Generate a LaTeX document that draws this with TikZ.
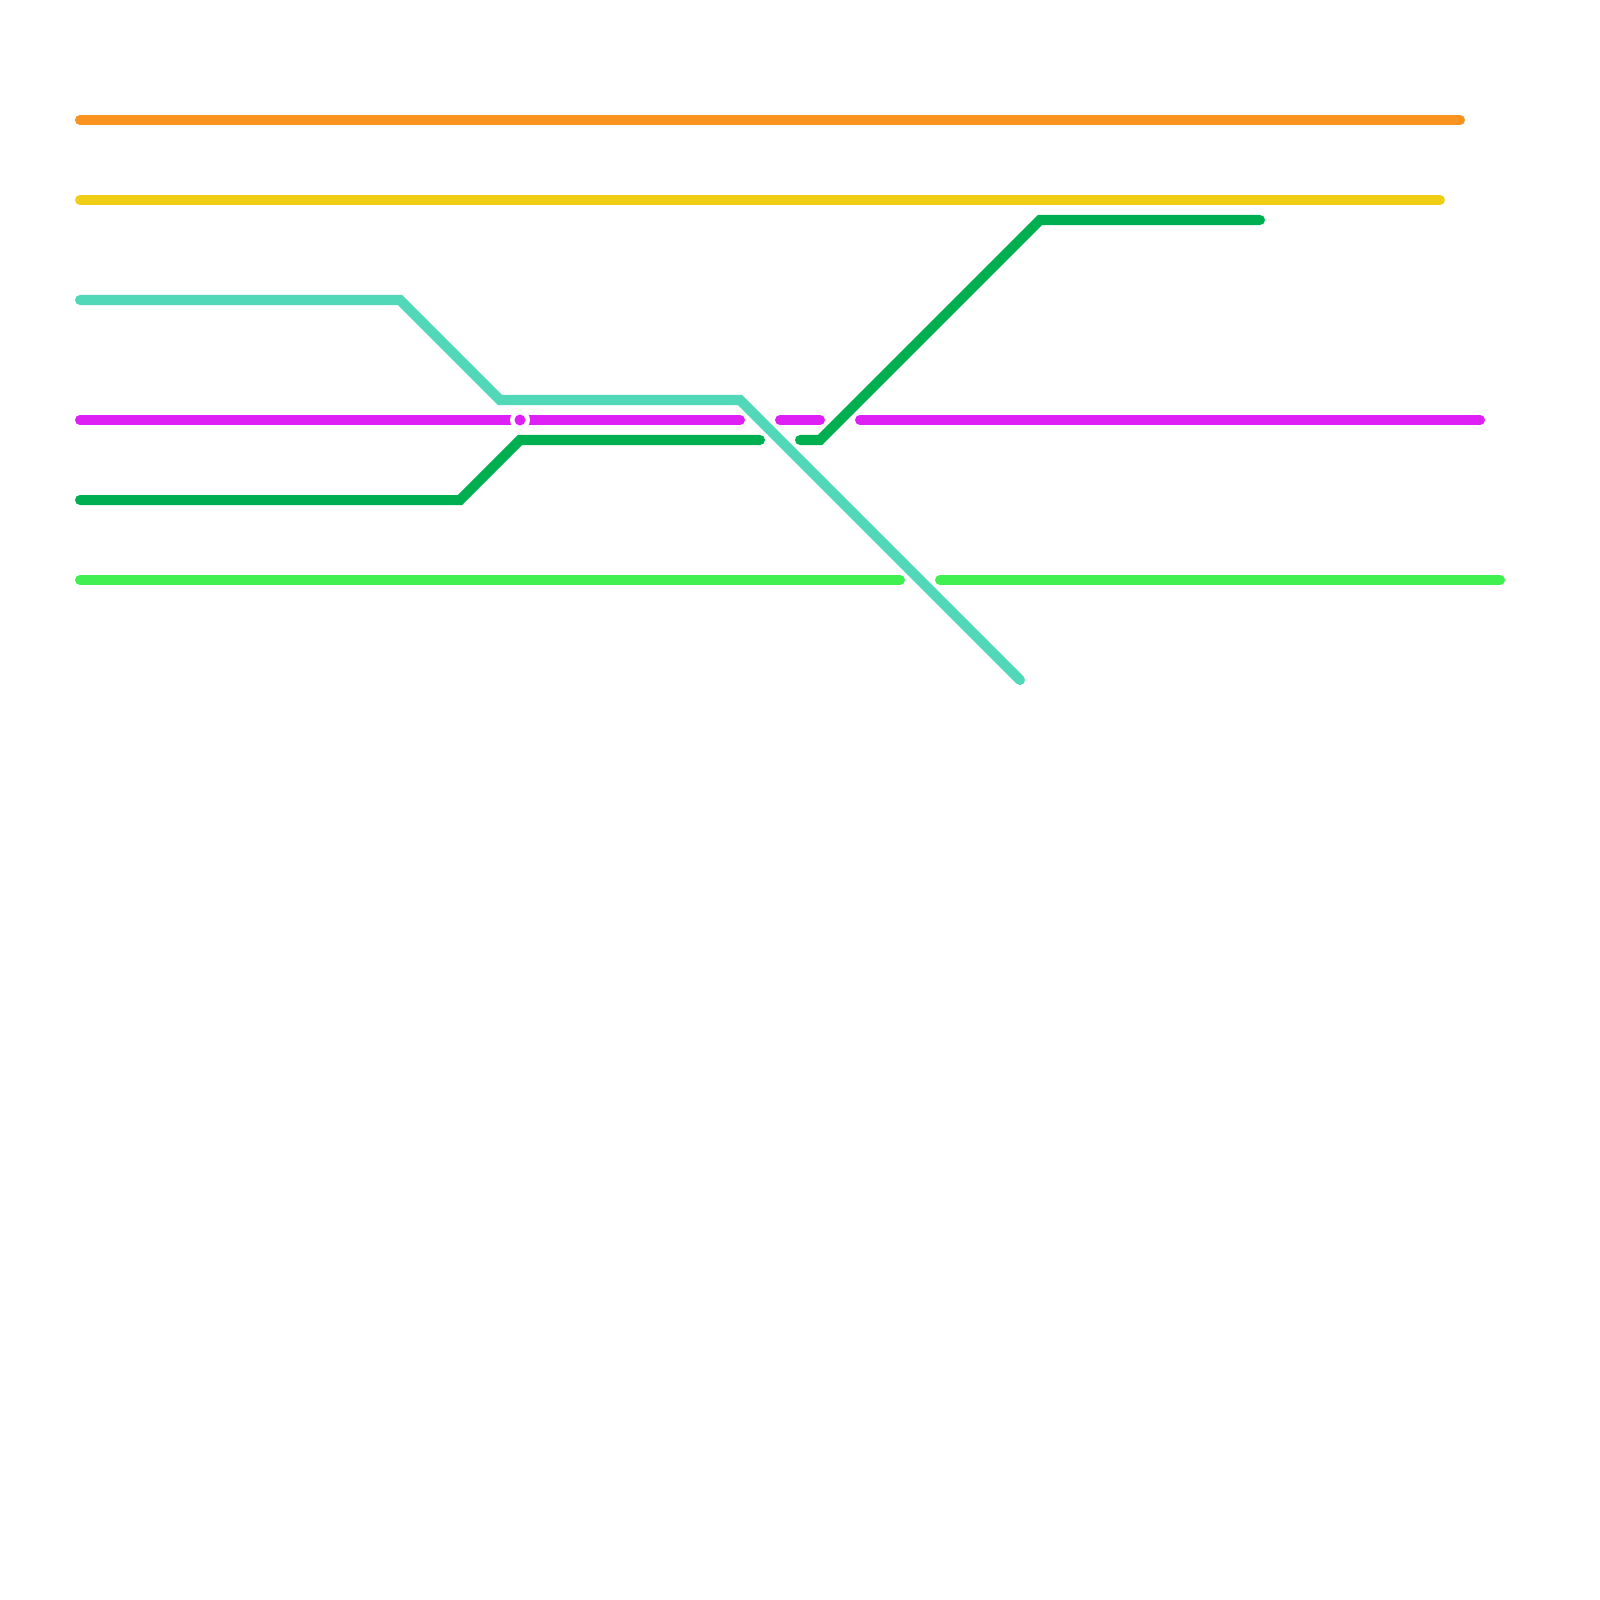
\documentclass[tikz,border=0pt]{standalone}
\usepackage{tikz}

\definecolor{lineorange}{HTML}{F7931E}
\definecolor{lineyellow}{HTML}{F0CE15}
\definecolor{lineteal}{HTML}{50D8B8}
\definecolor{linemagenta}{HTML}{DF20F5}
\definecolor{linegreen}{HTML}{00B050}
\definecolor{linelime}{HTML}{40F050}

\begin{document}
\begin{tikzpicture}[
    x=0.01cm, y=-0.01cm,
    metro/.style={line width=0.1cm, line cap=round, line join=miter},
    stationring/.style={circle, fill=white, inner sep=0pt, minimum size=0.2cm},
    stationdot/.style={circle, fill=linemagenta, inner sep=0pt, minimum size=0.11cm}
]
\useasboundingbox (0, 0) rectangle (1600, 1600);

% Straight lines
\coordinate (orange_a) at (80, 120);
\coordinate (orange_b) at (1460, 120);
\draw[metro, lineorange] (orange_a) -- (orange_b);
\coordinate (yellow_a) at (80, 200);
\coordinate (yellow_b) at (1440, 200);
\draw[metro, lineyellow] (yellow_a) -- (yellow_b);

% Magenta line, three pieces
\coordinate (magenta_a) at (80, 420);
\coordinate (magenta_b) at (740, 420);
\coordinate (magenta_c) at (780, 420);
\coordinate (magenta_d) at (820, 420);
\coordinate (magenta_e) at (860, 420);
\coordinate (magenta_f) at (1480, 420);
\draw[metro, linemagenta] (magenta_a) -- (magenta_b);
\draw[metro, linemagenta] (magenta_c) -- (magenta_d);
\draw[metro, linemagenta] (magenta_e) -- (magenta_f);

% Dark green line, two pieces
\coordinate (green_a) at (80, 500);
\coordinate (green_b) at (460, 500);
\coordinate (green_c) at (520, 440);
\coordinate (green_d) at (760, 440);
\coordinate (green_e) at (800, 440);
\coordinate (green_f) at (820, 440);
\coordinate (green_g) at (1040, 220);
\coordinate (green_h) at (1260, 220);
\draw[metro, linegreen] (green_a) -- (green_b) -- (green_c) -- (green_d);
\draw[metro, linegreen] (green_e) -- (green_f) -- (green_g) -- (green_h);

% Lime line, two pieces
\coordinate (lime_a) at (80, 580);
\coordinate (lime_b) at (900, 580);
\coordinate (lime_c) at (940, 580);
\coordinate (lime_d) at (1500, 580);
\draw[metro, linelime] (lime_a) -- (lime_b);
\draw[metro, linelime] (lime_c) -- (lime_d);

% Teal line
\coordinate (teal_a) at (80, 300);
\coordinate (teal_b) at (400, 300);
\coordinate (teal_c) at (500, 400);
\coordinate (teal_d) at (740, 400);
\coordinate (teal_e) at (1020, 680);
\draw[metro, lineteal] (teal_a) -- (teal_b) -- (teal_c) -- (teal_d) -- (teal_e);

% Station
\node[stationring] (station_ring) at (520, 420) {};
\node[stationdot] (station_dot) at (station_ring) {};

\end{tikzpicture}
\end{document}
